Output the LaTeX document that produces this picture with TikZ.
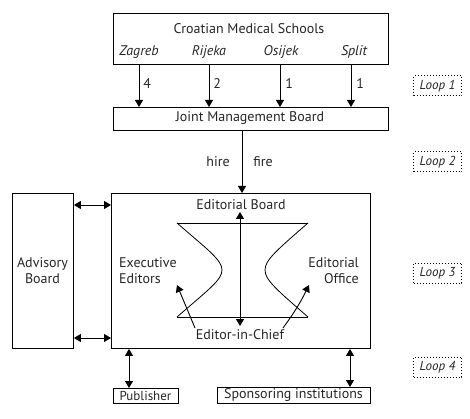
\documentclass[tikz,border=0pt]{standalone}
\usepackage{fontspec}
\setmainfont{PT Sans}
\usetikzlibrary{arrows.meta,positioning}
\begin{document}
\begin{tikzpicture}[x=1pt,y=-1pt,
  every node/.style={font=\fontsize{14}{16}\selectfont, inner sep=0pt, text=black!85},
  box/.style={draw, line width=0.9pt, anchor=north west},
  lbl/.style={font=\fontsize{14}{16}\selectfont},
  city/.style={font=\fontsize{14}{16}\selectfont\itshape},
  loopbox/.style={draw, dotted, line width=1pt, minimum width=48pt, minimum height=20pt, font=\fontsize{13}{15}\selectfont\itshape},
  arr/.style={line width=0.9pt, -{Triangle[length=7pt,width=8pt]}},
  darr/.style={line width=0.9pt, {Triangle[length=7pt,width=8pt]}-{Triangle[length=7pt,width=8pt]}},
  thin/.style={line width=0.8pt}
]
\useasboundingbox (0,0) rectangle (470,419);
% top box
\node[box, minimum width=275pt, minimum height=51pt] (cms) at (113,13) {};
\node[lbl] (cmstitle) at (249,29) {Croatian Medical Schools};
\node[city] (zagreb) at (139,52) {Zagreb};
\node[city] (rijeka) at (209,52) {Rijeka};
\node[city] (osijek) at (281,52) {Osijek};
\node[city] (split) at (354,52) {Split};
\coordinate (cz) at (139,0);
\coordinate (cr) at (209,0);
\coordinate (co) at (280,0);
\coordinate (cs) at (351,0);
% JMB
\node[box, minimum width=275pt, minimum height=23pt] (jmb) at (113,107) {};
\node[lbl] (jmbt) at (250,118) {Joint Management Board};
\draw[arr] (cms.south -| cz) -- node[right=4pt, pos=0.45] (n4) {4} (jmb.north -| cz);
\draw[arr] (cms.south -| cr) -- node[right=4pt, pos=0.45] (n2) {2} (jmb.north -| cr);
\draw[arr] (cms.south -| co) -- node[right=5pt, pos=0.45] (n1a) {1} (jmb.north -| co);
\draw[arr] (cms.south -| cs) -- node[right=5pt, pos=0.45] (n1b) {1} (jmb.north -| cs);
% main box
\node[box, minimum width=259pt, minimum height=155pt] (main) at (111,193) {};
\coordinate (hx) at (242,0);
\draw[arr] (jmb.south -| hx) -- (main.north -| hx);
\node[lbl] (hire) at (218,162) {hire};
\node[lbl] (fire) at (263,162) {fire};
% advisory
\node[box, minimum width=61pt, minimum height=155pt] (adv) at (12,193) {};
\node[lbl, align=center] (advt) at (42.5,271) {Advisory\\Board};
\coordinate (a1) at (0,205);
\coordinate (a2) at (0,338);
\draw[darr] (adv.east |- a1) -- (main.west |- a1);
\draw[darr] (adv.east |- a2) -- (main.west |- a2);
% inside
\node[lbl] (eb) at (241,205) {Editorial Board};
\node[lbl] (eic) at (240,335) {Editor-in-Chief};
\node[lbl, align=left, anchor=west] (exe) at (119,271) {Executive\\Editors};
\node[lbl, align=right, anchor=east] (eo) at (359,271) {Editorial\\Office};
\coordinate (tl) at (177,223);
\coordinate (tr) at (308,223);
\coordinate (bl) at (177,317);
\coordinate (br) at (308,317);
\draw[thin] (tl) -- (tr);
\draw[thin] (bl) -- (br);
\draw[thin] (tl) .. controls (208,250) and (222,260) .. (222,270) .. controls (222,280) and (208,290) .. (bl);
\draw[thin] (tr) .. controls (277,250) and (265,260) .. (265,270) .. controls (265,280) and (277,290) .. (br);
\coordinate (vt) at (240,212);
\coordinate (vb) at (240,326);
\draw[darr] (vb) -- (vt);
\coordinate (lt) at (177,285);
\coordinate (rt) at (309,285);
\draw[arr] (195,328) -- (lt);
\draw[arr] (283,328) to[bend right=5] (rt);
% bottom
\node[box, minimum width=65pt, minimum height=15pt] (pub) at (113,388) {};
\node[lbl, font=\fontsize{13}{15}\selectfont] (pubt) at (145.5,395.5) {Publisher};
\node[box, minimum width=153pt, minimum height=16pt] (spon) at (217,387) {};
\node[lbl] (spont) at (293.5,395) {Sponsoring institutions};
\coordinate (px) at (129,0);
\coordinate (sx) at (350,0);
\draw[darr] (main.south -| px) -- (pub.north -| px);
\draw[darr] (main.south -| sx) -- (spon.north -| sx);
% loops
\node[loopbox] (l1) at (437.5,86) {Loop 1};
\node[loopbox] (l2) at (437.5,162) {Loop 2};
\node[loopbox] (l3) at (437.5,273) {Loop 3};
\node[loopbox] (l4) at (437.5,367) {Loop 4};
\end{tikzpicture}
\end{document}
